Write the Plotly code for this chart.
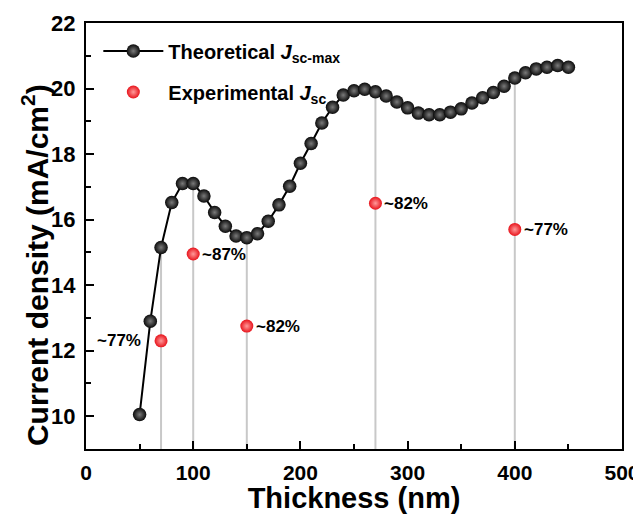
import plotly.graph_objects as go

thickness = [50, 60, 70, 80, 90, 100, 110, 120, 130, 140, 150, 160, 170, 180, 190, 200,
             210, 220, 230, 240, 250, 260, 270, 280, 290, 300, 310, 320, 330, 340, 350,
             360, 370, 380, 390, 400, 410, 420, 430, 440, 450]
jsc_theory = [10.05, 12.9, 15.15, 16.52, 17.1, 17.1, 16.72, 16.22, 15.8, 15.5, 15.45, 15.57,
              15.95, 16.45, 17.02, 17.72, 18.32, 18.95, 19.43, 19.8, 19.93, 19.98, 19.9,
              19.77, 19.59, 19.41, 19.25, 19.2, 19.2, 19.28, 19.38, 19.56, 19.72, 19.88,
              20.07, 20.32, 20.48, 20.6, 20.65, 20.7, 20.65]

exp_thickness = [70, 100, 150, 270, 400]
jsc_exp = [12.3, 14.95, 12.75, 16.5, 15.7]
exp_labels = ["~77%", "~87%", "~82%", "~82%", "~77%"]

x_ticks = [0, 100, 200, 300, 400, 500]
y_ticks = [10, 12, 14, 16, 18, 20, 22]
y_min, y_max = 9, 22
FONT = "Liberation Sans, Arial, sans-serif"

fig = go.Figure()

# vertical guide lines from the axis bottom up to the theoretical curve
gx, gy = [], []
for t in exp_thickness:
    top = jsc_theory[thickness.index(t)]
    gx += [t, t, None]
    gy += [y_min, top, None]
fig.add_trace(go.Scatter(x=gx, y=gy, mode="lines", line=dict(color="#c8c8c8", width=2),
                         showlegend=False, hoverinfo="skip"))

fig.add_trace(go.Scatter(
    x=thickness, y=jsc_theory, mode="lines+markers", legendgroup="a",
    name="<b>Theoretical <i>J</i><sub>sc-max</sub></b>",
    line=dict(color="black", width=2),
    marker=dict(size=13.5, color="#0a0a0a", gradient=dict(type="radial", color="#7a7a7a"),
                line=dict(width=0))))

fig.add_trace(go.Scatter(
    x=exp_thickness, y=jsc_exp, mode="markers", legendgroup="b",
    name="<b>Experimental <i>J</i><sub>sc</sub></b>",
    marker=dict(size=13, color="#e8141c", gradient=dict(type="radial", color="#ff9a9a"),
                line=dict(width=0))))

for i, (t, v, lab) in enumerate(zip(exp_thickness, jsc_exp, exp_labels)):
    left = i == 0
    fig.add_annotation(x=t, y=v, text="<b>" + lab + "</b>", showarrow=False,
                       xanchor="right" if left else "left",
                       xshift=-18 if left else 7,
                       font=dict(family=FONT, size=17, color="black"))

# y-axis title (placed as rotated text, slightly below the plot centre as in the original)
fig.add_annotation(xref="paper", yref="paper", x=-0.095, y=0.432,
                   text="<b>Current density (mA/cm<sup>2</sup>)</b>", textangle=-90,
                   showarrow=False, xanchor="center", yanchor="middle",
                   font=dict(family=FONT, size=30, color="black"))

axis_common = dict(showline=True, linecolor="black", linewidth=2, mirror=True,
                   ticks="inside", ticklen=8, tickwidth=2, tickcolor="black",
                   showgrid=False, zeroline=False, automargin=False)

fig.update_xaxes(range=[0, 500], tickvals=x_ticks,
                 ticktext=["<b>%d</b>" % v for v in x_ticks],
                 tickfont=dict(family=FONT, size=21, color="black"),
                 ticklabelstandoff=4,
                 minor=dict(ticks="inside", ticklen=5, tickwidth=2, tickcolor="black", dtick=50, tick0=0),
                 title=dict(text="<b>Thickness (nm)</b>", font=dict(family=FONT, size=29, color="black"),
                            standoff=5),
                 **axis_common)
fig.update_yaxes(range=[y_min, y_max], tickvals=y_ticks,
                 ticktext=["<b>%d</b>" % v for v in y_ticks],
                 tickfont=dict(family=FONT, size=22, color="black"),
                 ticklabelstandoff=4,
                 minor=dict(ticks="inside", ticklen=5, tickwidth=2, tickcolor="black", dtick=1, tick0=0),
                 **axis_common)

# the page places the figure ~8px from the window's top-left corner
fig.update_layout(
    width=633, height=506,
    margin=dict(l=78, r=19, t=15, b=65),
    plot_bgcolor="white", paper_bgcolor="white",
    font=dict(family=FONT, color="black"),
    legend=dict(x=0.023, y=0.98, xanchor="left", yanchor="top", tracegroupgap=12,
                bgcolor="rgba(0,0,0,0)", font=dict(family=FONT, size=20, color="black"),
                itemwidth=60),
)

fig.write_html("out.html")
